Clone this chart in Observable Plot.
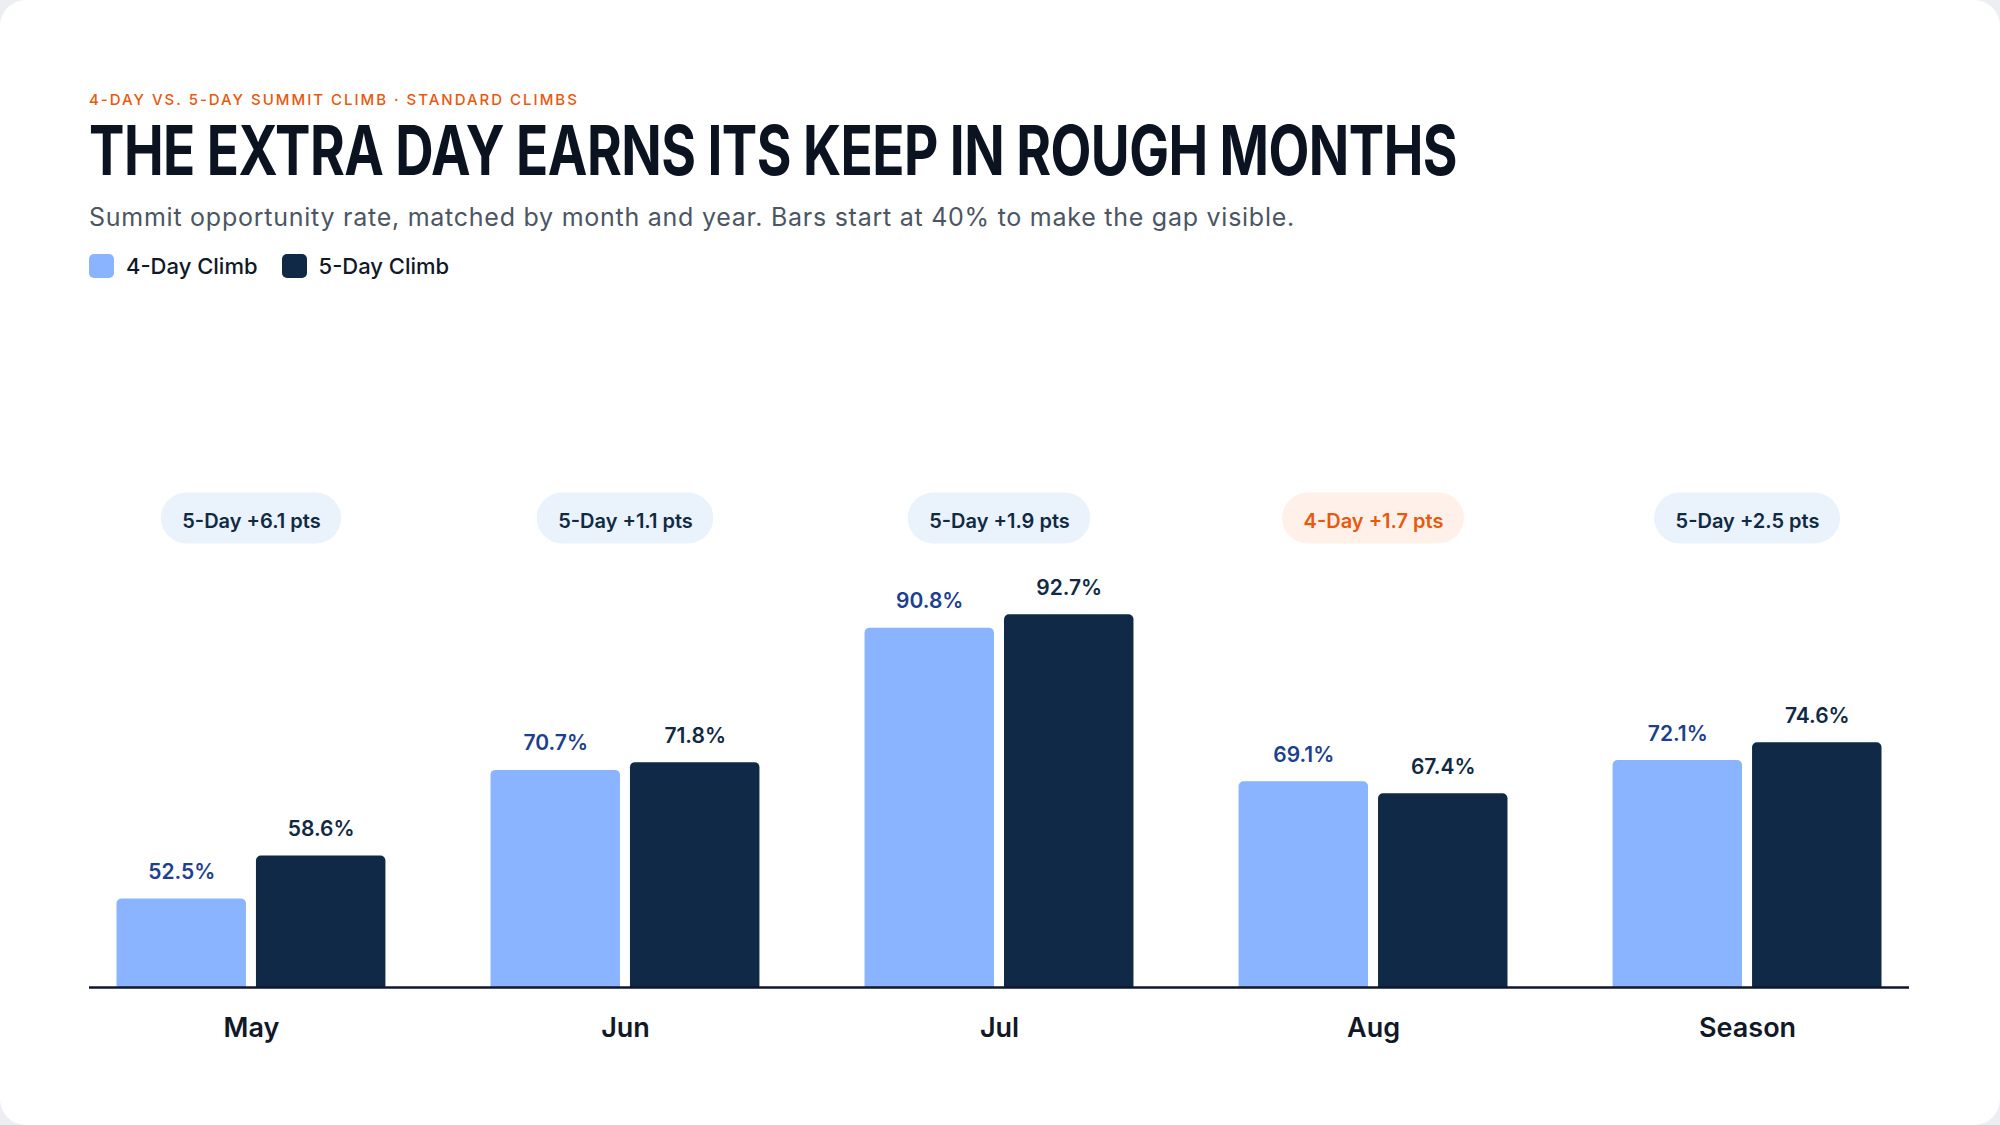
<!DOCTYPE html>
<html>
<head>
<meta charset="utf-8">
<script src="https://cdn.jsdelivr.net/npm/d3@7"></script>
<script src="https://cdn.jsdelivr.net/npm/@observablehq/plot@0.6"></script>
<style>
  html, body { margin: 0; padding: 0; background: #eceef1; }
  #card { position: relative; width: 2000px; height: 1125px; background: #ffffff; border-radius: 26px; overflow: hidden; font-family: Inter, "Noto Sans", sans-serif; }
  .abs { position: absolute; left: 89px; white-space: nowrap; line-height: 1; }
  #kicker { top: 92px; font-size: 15px; font-weight: 500; color: #ea580c; letter-spacing: 0.1em; }
  #title { top: 116px; font-family: Inter, sans-serif; font-size: 69px; font-weight: 700; color: #0b1220; letter-spacing: -0.01em; transform-origin: 0 0; }
  #subtitle { top: 205px; font-size: 25px; font-weight: 400; color: #4b5563; }
  #legend { top: 254px; height: 24px; display: flex; align-items: center; font-size: 22px; font-weight: 500; color: #111827; }
  .sw { width: 25px; height: 24px; border-radius: 5px; display: inline-block; margin-right: 12px; }
  .item { display: flex; align-items: center; margin-right: 24px; }
  #chart { position: absolute; left: 0; top: 440px; }
</style>
</head>
<body>
<div id="card">
  <div id="kicker" class="abs">4-DAY VS. 5-DAY SUMMIT CLIMB · STANDARD CLIMBS</div>
  <div id="title" class="abs">THE EXTRA DAY EARNS ITS KEEP IN ROUGH MONTHS</div>
  <div id="subtitle" class="abs">Summit opportunity rate, matched by month and year. Bars start at 40% to make the gap visible.</div>
  <div id="legend" class="abs"></div>
  <div id="chart"></div>
</div>
<script>
// ---- data ----
const months = ["May", "Jun", "Jul", "Aug", "Season"];
const fourDay = [52.5, 70.7, 90.8, 69.1, 72.1];
const fiveDay = [58.6, 71.8, 92.7, 67.4, 74.6];
const seriesNames = ["4-Day Climb", "5-Day Climb"];
const yDomain = [40, 110];

// ---- style ----
const c4 = "#8ab4ff", c5 = "#102946";
const t4 = "#1d3f8f", t5 = "#102a43";
const pillBlue = "#eaf2fc", pillOrange = "#fff0e9", orange = "#ea580c";

// fit header text widths
function fit(id, target) {
  const el = document.getElementById(id);
  const cs = getComputedStyle(el);
  const ctx = document.createElement("canvas").getContext("2d");
  ctx.font = `${cs.fontWeight} ${cs.fontSize} ${cs.fontFamily}`;
  const txt = el.textContent;
  const w = ctx.measureText(txt).width;
  el.style.letterSpacing = ((target - w) / txt.length) + "px";
}
function fitScale(id, target) {
  const el = document.getElementById(id);
  const w = el.getBoundingClientRect().width;
  el.style.transform = `scaleX(${target / w})`;
}
fitScale("title", 1368);
fit("kicker", 490);
fit("subtitle", 1206);

// legend
const legend = document.getElementById("legend");
[[seriesNames[0], c4], [seriesNames[1], c5]].forEach(([name, col]) => {
  const it = document.createElement("div");
  it.className = "item";
  it.innerHTML = `<span class="sw" style="background:${col}"></span><span>${name}</span>`;
  legend.appendChild(it);
});

// tables
const rows = months.map((m, i) => ({month: m, v4: fourDay[i], v5: fiveDay[i]}));
const pills = rows.map(d => {
  const diff = d.v5 - d.v4;
  return {
    month: d.month,
    win5: diff >= 0,
    label: diff >= 0 ? `5-Day +${diff.toFixed(1)} pts` : `4-Day +${(-diff).toFixed(1)} pts`
  };
});

// layout
const W = 2000, H = 640, mL = 89, mR = 91, mT = 52, mB = 93;
const pIn = 0.281, pOut = 0.0735;
const rangeW = W - mL - mR;
const step = rangeW / (months.length - pIn + 2 * pOut);
const bw = step * (1 - pIn);
const gap = 10;
const barW = (bw - gap) / 2;
const half = gap / 2 + barW / 2;
const frameH = H - mT - mB;
const pillH = 51.5;

const mctx = document.createElement("canvas").getContext("2d");
mctx.font = "600 20px Inter";

const pillMarks = pills.flatMap(p => {
  const w = mctx.measureText(p.label).width + 42;
  const ins = (bw - w) / 2;
  return [
    Plot.cell([p], {x: "month", fill: p.win5 ? pillBlue : pillOrange, rx: pillH / 2,
      insetLeft: ins, insetRight: ins, insetTop: 0.5, insetBottom: frameH - pillH}),
    Plot.text([p], {x: "month", text: "label", frameAnchor: "top", dy: 21.5,
      fill: p.win5 ? t5 : orange, fontSize: 20, fontWeight: 600})
  ];
});

const chart = Plot.plot({
  width: W, height: H,
  marginLeft: mL, marginRight: mR, marginTop: mT, marginBottom: mB,
  style: "font-family: Inter, sans-serif; font-size: 27px; font-weight: 600; color: #111827; background: transparent; overflow: visible;",
  x: {domain: months, paddingInner: pIn, paddingOuter: pOut, round: false, tickSize: 0, tickPadding: 30, label: null},
  y: {domain: yDomain, axis: null},
  marks: [
    ...pillMarks,
    Plot.barY(rows, {x: "month", y1: yDomain[0], y2: "v4", fill: c4, rx: 5,
      insetRight: bw - barW, insetBottom: -8, clip: true}),
    Plot.barY(rows, {x: "month", y1: yDomain[0], y2: "v5", fill: c5, rx: 5,
      insetLeft: bw - barW, insetBottom: -8, clip: true}),
    Plot.ruleY([yDomain[0]], {stroke: "#0f172a", strokeWidth: 2.5}),
    Plot.text(rows, {x: "month", y: "v4", text: d => d.v4.toFixed(1) + "%", dx: -half, dy: -20,
      lineAnchor: "bottom", fill: t4, fontSize: 21, fontWeight: 600}),
    Plot.text(rows, {x: "month", y: "v5", text: d => d.v5.toFixed(1) + "%", dx: half, dy: -20,
      lineAnchor: "bottom", fill: t5, fontSize: 21, fontWeight: 600})
  ]
});
document.getElementById("chart").appendChild(chart);
</script>
</body>
</html>
